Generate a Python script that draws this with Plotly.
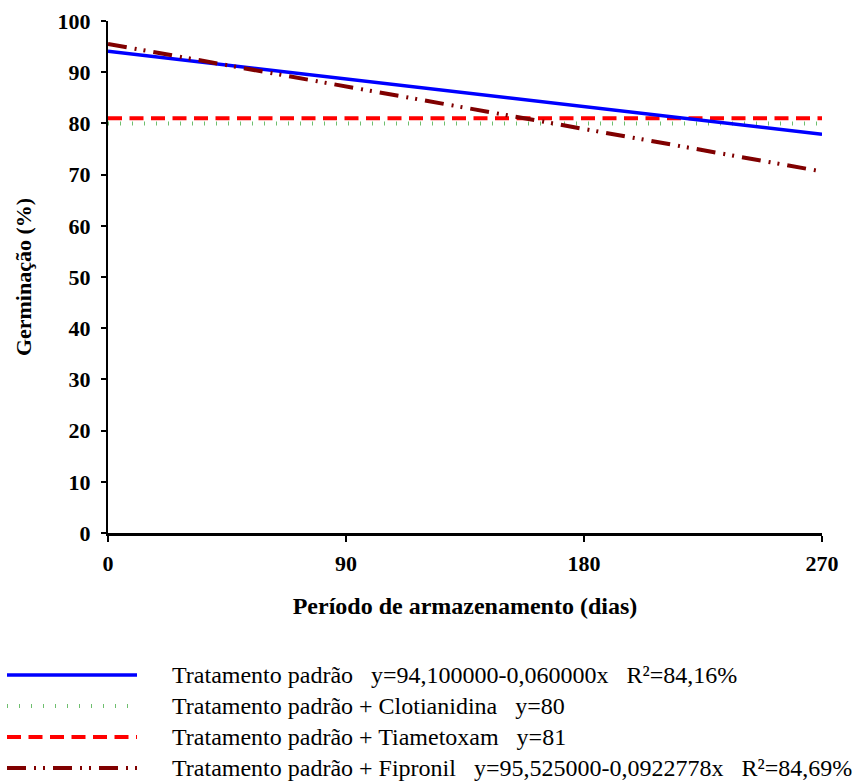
import plotly.graph_objects as go

dias = [0, 90, 180, 270]
padrao = [94.1, 88.7, 83.3, 77.9]
clotianidina = [80, 80, 80, 80]
tiametoxam = [81, 81, 81, 81]
fipronil = [95.525, 87.22, 78.92, 70.61]

y_ticks = [0, 10, 20, 30, 40, 50, 60, 70, 80, 90, 100]
x_ticks = [0, 90, 180, 270]

sp = "\u00a0\u00a0\u00a0"
legend_labels = [
    f"Tratamento padrão{sp}y=94,100000-0,060000x{sp}R²=84,16%",
    f"Tratamento padrão + Clotianidina{sp}y=80",
    f"Tratamento padrão + Tiametoxam{sp}y=81",
    f"Tratamento padrão + Fipronil{sp}y=95,525000-0,0922778x{sp}R²=84,69%",
]

styles = [
    dict(color="#0000FF", width=3.5, dash="solid"),
    dict(color="#6FBF6F", width=4, dash="1px,11px"),
    dict(color="#FF0000", width=4, dash="14px,7.5px"),
    dict(color="#800000", width=4, dash="19px,8px,2px,7px,2px,8px"),
]

series = [padrao, clotianidina, tiametoxam, fipronil]
order = [1, 2, 0, 3]

fig = go.Figure()
for i in order:
    fig.add_trace(go.Scatter(x=dias, y=series[i], mode="lines", line=styles[i],
                             name=legend_labels[i], showlegend=False))

W, H = 856, 782
ml, mr, mt, mb = 108, 34, 21, 249
pw, ph = W - ml - mr, H - mt - mb

font_family = "Liberation Serif, Times New Roman, serif"

legend_y_px = [675, 706, 737, 768]
for i, ypx in enumerate(legend_y_px):
    yp = (H - mb - ypx) / ph
    x0 = (7 - ml) / pw
    x1 = (137 - ml) / pw
    fig.add_shape(type="line", xref="paper", yref="paper", x0=x0, x1=x1, y0=yp, y1=yp,
                  line=styles[i])
    fig.add_annotation(xref="paper", yref="paper", x=(170 - ml) / pw, y=yp,
                       xanchor="left", yanchor="middle", showarrow=False,
                       text=legend_labels[i], font=dict(size=24, color="black", family=font_family))

fig.update_layout(
    width=W, height=H,
    margin=dict(l=ml, r=mr, t=mt, b=mb, autoexpand=False),
    plot_bgcolor="white", paper_bgcolor="white",
    font=dict(family=font_family, color="black"),
    xaxis=dict(range=[0, 270], tickvals=x_ticks, ticktext=[f"<b>{v}</b>" for v in x_ticks],
               automargin=False,
               showgrid=False, zeroline=False, showline=True, linecolor="black", linewidth=3,
               ticks="outside", ticklen=6, tickwidth=2, tickcolor="black",
               tickfont=dict(size=22), ticklabelstandoff=3,
               title=dict(text="<b>Período de armazenamento (dias)</b>", font=dict(size=24), standoff=22)),
    yaxis=dict(range=[0, 100], tickvals=y_ticks, ticktext=[f"<b>{v}</b>" for v in y_ticks],
               automargin=False,
               showgrid=False, zeroline=False, showline=True, linecolor="black", linewidth=2,
               ticks="outside", ticklen=5, tickwidth=2, tickcolor="black",
               tickfont=dict(size=22), ticklabelstandoff=6,
               title=dict(text="<b>Germinação (%)</b>", font=dict(size=22), standoff=20)),
)

fig.write_html("out.html", config={"displayModeBar": False},
               post_script="document.body.style.margin='0';document.body.style.overflow='hidden';")
